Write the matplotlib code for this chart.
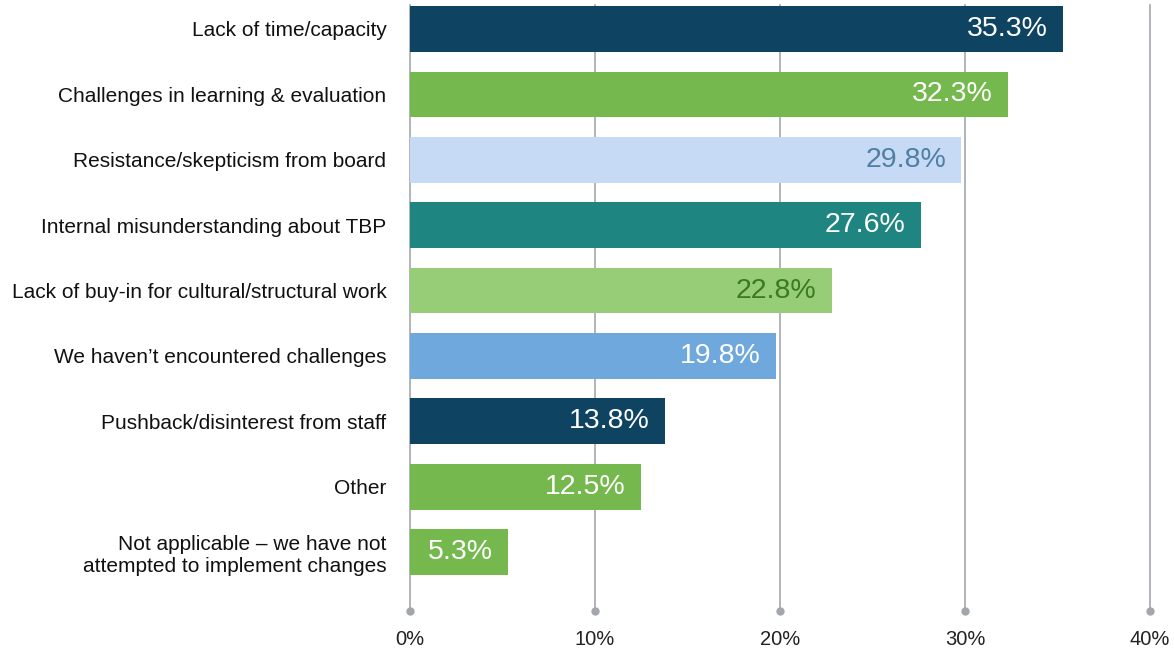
import matplotlib
matplotlib.use("Agg")
import matplotlib.pyplot as plt

plt.rcParams['font.family'] = ['Liberation Sans', 'DejaVu Sans']

categories = [
    "Lack of time/capacity",
    "Challenges in learning & evaluation",
    "Resistance/skepticism from board",
    "Internal misunderstanding about TBP",
    "Lack of buy-in for cultural/structural work",
    "We haven\u2019t encountered challenges",
    "Pushback/disinterest from staff",
    "Other",
    "Not applicable \u2013 we have not\nattempted to implement changes",
]
values = [35.3, 32.3, 29.8, 27.6, 22.8, 19.8, 13.8, 12.5, 5.3]
bar_colors = ["#0e4461", "#75b94e", "#c6d9f5", "#1f8580", "#96cd76",
              "#6fa8dc", "#0e4461", "#75b94e", "#75b94e"]
label_colors = ["white", "white", "#4f7fa3", "white", "#3b7a24",
                "white", "white", "white", "white"]
ticks = [0, 10, 20, 30, 40]
tick_labels = ["0%", "10%", "20%", "30%", "40%"]

fig = plt.figure(figsize=(11.74, 6.49), dpi=100)
ax = fig.add_axes([410 / 1174, 1 - 611 / 649, 740 / 1174, 606 / 649])

ypos = list(range(len(categories)))
ax.barh(ypos, values, height=0.70, color=bar_colors, zorder=3)

for y, v, c in zip(ypos, values, label_colors):
    ax.annotate(f"{v:.1f}%", xy=(v, y), xytext=(-11, 0),
                textcoords="offset points", ha="right", va="center",
                fontsize=20.5, color=c, zorder=4)

ax.set_xlim(0, 40)
ax.set_ylim(8.9, -0.367)

grid_color = "#a3a7ab"
for t in ticks:
    ax.axvline(t, color=grid_color, lw=1.2, zorder=1, clip_on=False)
ax.plot(ticks, [8.9] * len(ticks), "o", color=grid_color, ms=5,
        clip_on=False, zorder=2)

ax.set_xticks(ticks)
ax.set_xticklabels(tick_labels, fontsize=14.5, color="#222222")
ax.tick_params(axis="x", length=0, pad=14)
ax.set_yticks(ypos)
ax.set_yticklabels(categories, fontsize=15, color="#111111")
ax.tick_params(axis="y", length=0, pad=17)
for s in ax.spines.values():
    s.set_visible(False)

fig.savefig("out.png", dpi=100)
